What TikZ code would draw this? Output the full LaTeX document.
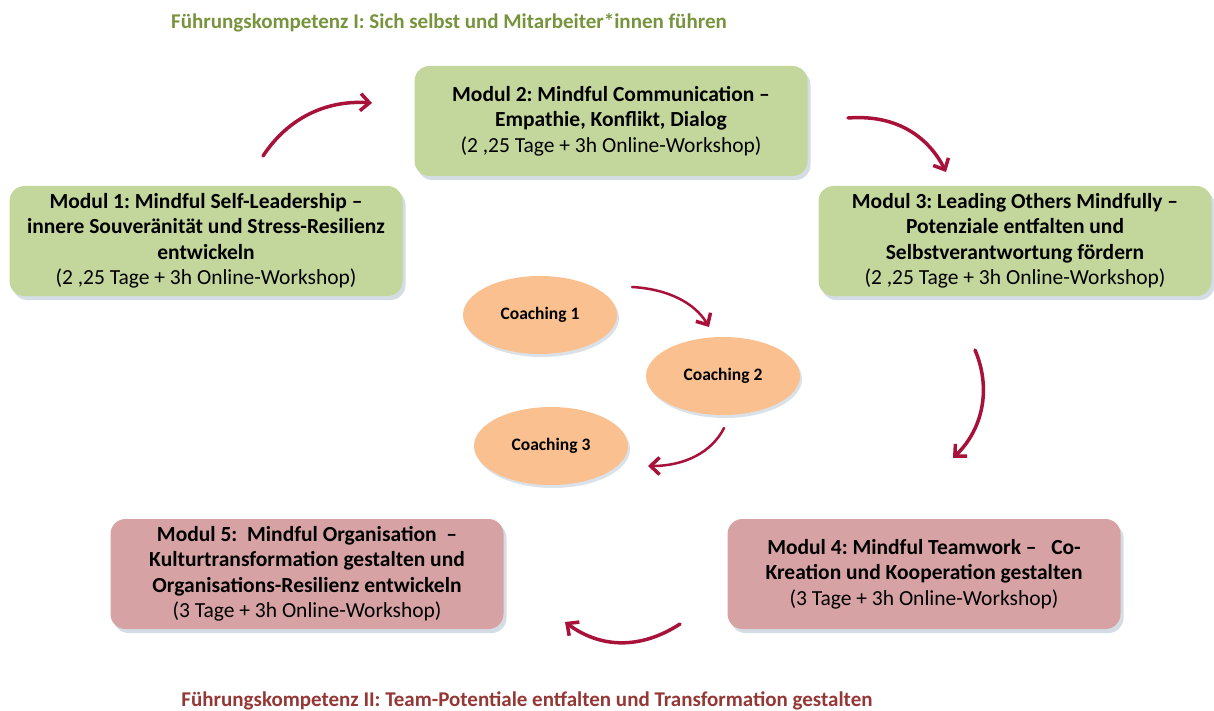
\documentclass[tikz,border=0pt]{standalone}
\usepackage{fontspec}
\setmainfont{Carlito}
\frenchspacing
\usetikzlibrary{calc,shadows,shapes.geometric,arrows.meta}
\definecolor{modgreen}{HTML}{C3D69B}
\definecolor{modrose}{HTML}{D7A2A4}
\definecolor{coachorange}{HTML}{FAC090}
\definecolor{arrowred}{HTML}{A8123A}
\definecolor{titlegreen}{HTML}{77933C}
\definecolor{titlered}{HTML}{953735}
\definecolor{shadowgray}{HTML}{B8C4D2}
\tikzset{
	modbox/.style={rectangle, rounded corners=15pt, minimum width=393pt, minimum height=110pt,
		align=center, font=\fontsize{21.5}{25.5}\selectfont\bfseries, inner sep=0pt,
		drop shadow={shadow xshift=3pt, shadow yshift=-4pt, fill=shadowgray, opacity=0.6}},
	coachell/.style={ellipse, fill=coachorange, minimum width=154pt, minimum height=78pt,
		inner sep=0pt, font=\fontsize{17.5}{19}\selectfont\bfseries,
		drop shadow={shadow xshift=2pt, shadow yshift=-3pt, fill=shadowgray, opacity=0.5}},
	flowarrow/.style={draw=arrowred, line width=3.5pt, line cap=round,
		-{Straight Barb[length=9pt, width=17pt, line width=3.5pt]}}
}
\def\dauer#1{\\ \mdseries(#1 Tage + 3h Online-Workshop)}

\begin{document}
\begin{tikzpicture}[x=1pt, y=-1pt]
		%%%%% START %%%%%
		\useasboundingbox (0,0) rectangle (1214,711);
		
		\node[font=\fontsize{21}{23}\selectfont\bfseries, text=titlegreen] (titel1) at (449,23)
			{Führungskompetenz I: Sich selbst und Mitarbeiter*innen führen};
		\node[font=\fontsize{21}{23}\selectfont\bfseries, text=titlered] (titel2) at (527,701)
			{Führungskompetenz II: Team-Potentiale entfalten und Transformation gestalten};
		
		\node[modbox, fill=modgreen] (modul2) at (611,121)
			{Modul 2: Mindful Communication --\\ Empathie, Konflikt, Dialog\dauer{2 ,25}};
		\node[modbox, fill=modgreen] (modul1) at (206,241)
			{Modul 1: Mindful Self-Leadership --\\ innere Souveränität und Stress-Resilienz\\ entwickeln\dauer{2 ,25}};
		\node[modbox, fill=modgreen] (modul3) at (1015,241)
			{Modul 3: Leading Others Mindfully --\\ Potenziale entfalten und\\ Selbstverantwortung fördern\dauer{2 ,25}};
		\node[modbox, fill=modrose] (modul4) at (924,574)
			{Modul 4: Mindful Teamwork --\ \ \ Co-\\ Kreation und Kooperation gestalten\dauer{3}};
		\node[modbox, fill=modrose] (modul5) at (307,574)
			{Modul 5:\ \ Mindful Organisation\ \ --\\ Kulturtransformation gestalten und\\ Organisations-Resilienz entwickeln\dauer{3}};
		
		\node[coachell] (coach1) at (540,315) {Coaching 1};
		\node[coachell] (coach2) at (723,376) {Coaching 2};
		\node[coachell] (coach3) at (551,446) {Coaching 3};
		
		% free arrow ends
		\coordinate (p12a) at (263,156); \coordinate (p12b) at (372,103);
		\coordinate (p23a) at (848,118); \coordinate (p23b) at (946,172);
		\coordinate (p34a) at (975,350); \coordinate (p34b) at (953,458);
		\coordinate (p45a) at (680,624); \coordinate (p45b) at (565,622);
		\coordinate (c12a) at (632,287); \coordinate (c12b) at (709,327);
		\coordinate (c23a) at (724,428); \coordinate (c23b) at (648,466);
		
		\draw[flowarrow] (p12a) .. controls (290,115) and (330,100) .. (p12b);
		\draw[flowarrow] (p23a) .. controls (900,114) and (930,140) .. (p23b);
		\draw[flowarrow] (p34a) .. controls (992,390) and (982,430) .. (p34b);
		\draw[flowarrow] (p45a) .. controls (640,650) and (600,648) .. (p45b);
		\draw[flowarrow, line width=2.5pt] (c12a) .. controls (668,289) and (695,303) .. (c12b);
		\draw[flowarrow, line width=2.5pt] (c23a) .. controls (712,452) and (685,466) .. (c23b);
		%%%%% END %%%%%
	\end{tikzpicture}
\end{document}
